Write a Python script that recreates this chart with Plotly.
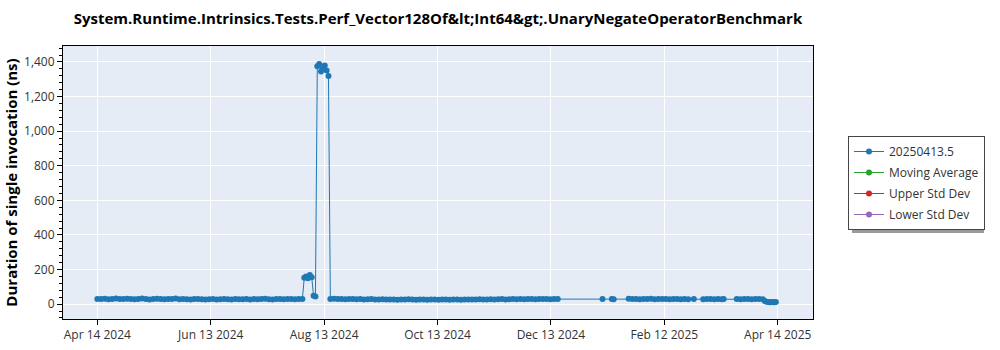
import plotly.graph_objects as go

# ---- data ----
dates_a = ["2024-04-14", "2024-04-16", "2024-04-18", "2024-04-20", "2024-04-22", "2024-04-24", "2024-04-26", "2024-04-28", "2024-04-30",
           "2024-05-02", "2024-05-04", "2024-05-06", "2024-05-08", "2024-05-10", "2024-05-12", "2024-05-14", "2024-05-16", "2024-05-18",
           "2024-05-20", "2024-05-22", "2024-05-24", "2024-05-26", "2024-05-28", "2024-05-30",
           "2024-06-01", "2024-06-03", "2024-06-05", "2024-06-07", "2024-06-09", "2024-06-11", "2024-06-13", "2024-06-15", "2024-06-17",
           "2024-06-19", "2024-06-21", "2024-06-23", "2024-06-25", "2024-06-27", "2024-06-29",
           "2024-07-01", "2024-07-03", "2024-07-05", "2024-07-07", "2024-07-09", "2024-07-11", "2024-07-13", "2024-07-15", "2024-07-17",
           "2024-07-19", "2024-07-21", "2024-07-23", "2024-07-25", "2024-07-27", "2024-07-29", "2024-07-31", "2024-08-02"]
values_a = [30, 29, 31, 28, 30, 33, 29, 30, 31,
            30, 28, 29, 32, 30, 27, 29, 31, 30,
            28, 29, 30, 33, 28, 29,
            28, 27, 29, 30, 28, 26, 28, 29, 27,
            28, 30, 28, 27, 29, 28,
            28, 29, 27, 30, 28, 29, 31, 28, 27,
            29, 30, 28, 29, 30, 28, 29, 29]

dates_spike = ["2024-08-03", "2024-08-04", "2024-08-05", "2024-08-06", "2024-08-07",
               "2024-08-08", "2024-08-09",
               "2024-08-10", "2024-08-11", "2024-08-12", "2024-08-13", "2024-08-14", "2024-08-15", "2024-08-16"]
values_spike = [152, 160, 150, 168, 155,
                48, 44,
                1375, 1388, 1345, 1365, 1380, 1350, 1318]

dates_b = ["2024-08-17", "2024-08-19", "2024-08-21", "2024-08-23", "2024-08-25", "2024-08-27", "2024-08-29", "2024-08-31",
           "2024-09-02", "2024-09-04", "2024-09-06", "2024-09-08", "2024-09-10", "2024-09-12", "2024-09-14", "2024-09-16",
           "2024-09-18", "2024-09-20", "2024-09-22", "2024-09-24", "2024-09-26", "2024-09-28", "2024-09-30",
           "2024-10-02", "2024-10-04", "2024-10-06", "2024-10-08", "2024-10-10", "2024-10-12", "2024-10-14", "2024-10-16",
           "2024-10-18", "2024-10-20", "2024-10-22", "2024-10-24", "2024-10-26", "2024-10-28", "2024-10-30",
           "2024-11-01", "2024-11-03", "2024-11-05", "2024-11-07", "2024-11-09", "2024-11-11", "2024-11-13", "2024-11-15",
           "2024-11-17", "2024-11-19", "2024-11-21", "2024-11-23", "2024-11-25", "2024-11-27", "2024-11-29",
           "2024-12-01", "2024-12-03", "2024-12-05", "2024-12-07", "2024-12-09", "2024-12-11", "2024-12-13", "2024-12-15", "2024-12-17"]
values_b = [30, 31, 29, 30, 28, 29, 30, 28,
            29, 27, 28, 30, 27, 26, 28, 27,
            26, 27, 25, 27, 26, 28, 26,
            25, 27, 26, 25, 27, 26, 25, 26,
            27, 25, 26, 27, 25, 26, 27,
            26, 27, 28, 26, 27, 28, 27, 28,
            29, 27, 28, 30, 28, 29, 28,
            29, 30, 28, 29, 30, 29, 28, 30, 29]

dates_c = ["2025-01-10", "2025-01-15", "2025-01-16",
           "2025-01-24", "2025-01-26", "2025-01-28", "2025-01-30",
           "2025-02-01", "2025-02-03", "2025-02-05", "2025-02-07", "2025-02-09", "2025-02-11", "2025-02-13",
           "2025-02-15", "2025-02-17", "2025-02-19", "2025-02-21", "2025-02-23", "2025-02-25", "2025-02-28",
           "2025-03-05", "2025-03-07", "2025-03-09", "2025-03-11", "2025-03-13", "2025-03-15", "2025-03-16",
           "2025-03-23", "2025-03-25", "2025-03-27", "2025-03-29", "2025-03-31", "2025-04-02", "2025-04-04", "2025-04-06",
           "2025-04-07", "2025-04-08", "2025-04-09", "2025-04-10", "2025-04-11", "2025-04-12", "2025-04-13"]
values_c = [29, 30, 28,
            31, 29, 30, 28,
            30, 29, 31, 28, 30, 29, 30,
            28, 29, 30, 28, 29, 28, 29,
            28, 29, 30, 28, 29, 28, 30,
            29, 28, 30, 29, 28, 30, 29, 28,
            18, 14, 12, 11, 12, 11, 12]

dates = dates_a + dates_spike + dates_b + dates_c
values = values_a + values_spike + values_b + values_c

series_names = ["20250413.5", "Moving Average", "Upper Std Dev", "Lower Std Dev"]
series_colors = ["#1f77b4", "#2ca02c", "#d62728", "#9467bd"]

x_tick_vals = ["2024-04-14", "2024-06-13 20:00", "2024-08-13 16:00", "2024-10-13 12:00",
               "2024-12-13 08:00", "2025-02-12 04:00", "2025-04-14"]
x_tick_text = ["Apr 14 2024", "Jun 13 2024", "Aug 13 2024", "Oct 13 2024",
               "Dec 13 2024", "Feb 12 2025", "Apr 14 2025"]

title_text = "System.Runtime.Intrinsics.Tests.Perf_Vector128Of&amp;lt;Int64&amp;gt;.UnaryNegateOperatorBenchmark"
y_title = "Duration of single invocation (ns)"

FONT = "Segoe UI, Open Sans, Noto Sans, sans-serif"

fig = go.Figure()
fig.add_trace(go.Scatter(
    x=dates, y=values, mode="lines+markers", name=series_names[0], legendgroup="g0",
    line=dict(color=series_colors[0], width=1),
    marker=dict(color=series_colors[0], size=6),
))
for i, (nm, col) in enumerate(zip(series_names[1:], series_colors[1:])):
    fig.add_trace(go.Scatter(
        x=[None], y=[None], mode="lines+markers", name=nm, legendgroup="g%d" % (i + 1),
        line=dict(color=col, width=1), marker=dict(color=col, size=6),
    ))

L, R, T, B = 63, 187, 46, 31
W, H = 1000, 350
pw, ph = W - L - R, H - T - B

def px_x(p):
    return (p - L) / pw

def px_y(p):
    return (H - B - p) / ph

# legend drop shadow (two strips outside the legend box: right and bottom)
SHADOW = "#9a9a9a"
fig.add_shape(type="rect", xref="paper", yref="paper",
              x0=px_x(980.5), x1=px_x(984), y0=px_y(233), y1=px_y(140),
              fillcolor=SHADOW, line=dict(width=0), layer="above")
fig.add_shape(type="rect", xref="paper", yref="paper",
              x0=px_x(852), x1=px_x(984), y0=px_y(233), y1=px_y(229.5),
              fillcolor=SHADOW, line=dict(width=0), layer="above")

fig.update_layout(
    width=W, height=H,
    margin=dict(l=L, r=R, t=T, b=B, autoexpand=False),
    paper_bgcolor="white", plot_bgcolor="#e5ecf6",
    font=dict(family=FONT, size=12, color="#333"),
    title=dict(text=title_text, x=0.5, xref="paper", y=1 - 19 / H, yref="container",
               yanchor="middle", font=dict(family=FONT, size=15, color="black", weight="bold"),
               automargin=False),
    showlegend=True,
    legend=dict(x=px_x(848), xanchor="left", y=px_y(136), yanchor="top",
                bgcolor="white", bordercolor="#444", borderwidth=1,
                traceorder="grouped", tracegroupgap=2,
                font=dict(family=FONT, size=12, color="#333")),
    xaxis=dict(
        type="date", range=["2024-03-26 14:00", "2025-05-02 22:00"],
        tickvals=x_tick_vals, ticktext=x_tick_text, automargin=False,
        showgrid=True, gridcolor="white", gridwidth=1,
        showline=True, linecolor="black", linewidth=1, mirror=True,
        ticks="outside", ticklen=5, tickcolor="black", zeroline=False,
        tickfont=dict(size=12, color="#333"),
    ),
    yaxis=dict(
        range=[-86, 1492], dtick=200, tick0=0, tickformat=",", automargin=False,
        showgrid=True, gridcolor="white", gridwidth=1,
        showline=True, linecolor="black", linewidth=1, mirror=True,
        ticks="outside", ticklen=5, tickcolor="black", zeroline=False,
        minor=dict(dtick=40, ticks="outside", ticklen=3, tickcolor="black", showgrid=False),
        tickfont=dict(size=12, color="#333"),
        title=dict(text=y_title, font=dict(family=FONT, size=15, color="black", weight="bold"), standoff=2),
    ),
)

fig.write_html("out.html")
